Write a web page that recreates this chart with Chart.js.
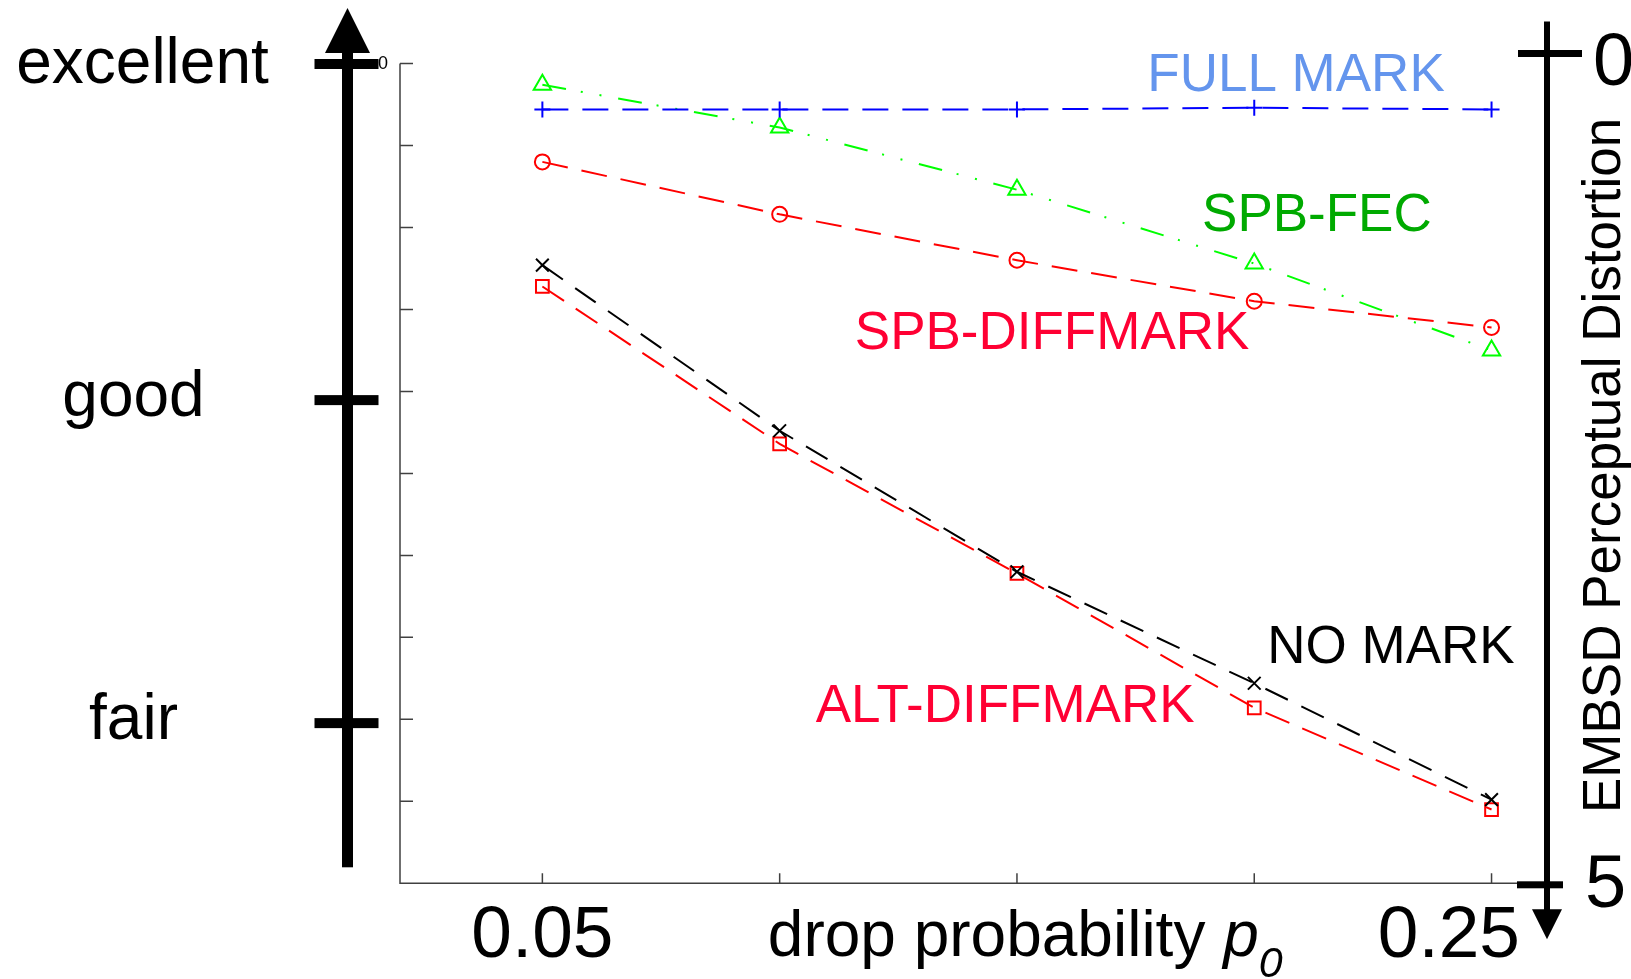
<!DOCTYPE html>
<html>
<head>
  <title>EMBSD perceptual distortion vs drop probability</title>
  <script src="https://cdn.jsdelivr.net/npm/chart.js"></script>
  <style>
    body { margin: 0; background: #fff; }
    canvas { display: block; }
  </style>
</head>
<body>
  <canvas id="chart" width="1631" height="979"></canvas>

  <script>
    // data
    var dropProb = [0.05, 0.10, 0.15, 0.20, 0.25];
    var fullMark = [0.28, 0.28, 0.28, 0.27, 0.28];
    var spbFec = [0.13, 0.39, 0.77, 1.22, 1.75];
    var spbDiffmark = [0.60, 0.92, 1.20, 1.45, 1.61];
    var noMark = [1.23, 2.24, 3.10, 3.78, 4.49];
    var altDiffmark = [1.36, 2.32, 3.11, 3.93, 4.55];

    var yTicks = [0, 0.5, 1, 1.5, 2, 2.5, 3, 3.5, 4, 4.5, 5];
    var xTickLabels = ['0.05', '0.25'];
    var xTickLabelAt = [0.05, 0.241];
    var qualityLabels = ['excellent', 'good', 'fair'];
    var qualityLevels = [0, 2.05, 4.02];

    // series names written inside the plot (anchor in data units)
    var seriesNames = ['FULL MARK', 'SPB-FEC', 'SPB-DIFFMARK', 'NO MARK', 'ALT-DIFFMARK'];
    var nameX = [0.2088, 0.2132, 0.1574, 0.2288, 0.1475];
    var nameY = [0.052, 0.906, 1.625, 3.54, 3.90];
    var nameColors = ['#6495ED', '#00AA00', '#FF0033', '#000000', '#FF0033'];

    var FONT = '"Liberation Sans", Arial, Helvetica, sans-serif';

    function pts(ys) {
      return dropProb.map(function (x, i) { return { x: x, y: ys[i] }; });
    }

    function series(label, ys, color, dash, style, radius) {
      return {
        label: label,
        data: pts(ys),
        borderColor: color,
        borderWidth: 2,
        borderDash: dash,
        fill: false,
        tension: 0,
        pointStyle: style,
        pointRadius: radius,
        pointHoverRadius: radius,
        pointBorderWidth: 2,
        pointBorderColor: color,
        pointBackgroundColor: 'rgba(0,0,0,0)'
      };
    }

    var decorations = {
      id: 'decorations',
      beforeDatasetsDraw: function (chart) {
        var ctx = chart.ctx, a = chart.chartArea;
        var xs = chart.scales.x, ys = chart.scales.y;
        ctx.save();

        // axes with inner ticks
        ctx.strokeStyle = '#404040';
        ctx.lineWidth = 1.5;
        ctx.beginPath();
        ctx.moveTo(a.left, a.top);
        ctx.lineTo(a.left, a.bottom);
        ctx.lineTo(a.right, a.bottom);
        yTicks.forEach(function (v) {
          var y = ys.getPixelForValue(v);
          ctx.moveTo(a.left, y);
          ctx.lineTo(a.left + 13, y);
        });
        dropProb.forEach(function (v) {
          var x = xs.getPixelForValue(v);
          ctx.moveTo(x, a.bottom);
          ctx.lineTo(x, a.bottom - 10);
        });
        ctx.stroke();

        ctx.fillStyle = '#000';
        ctx.font = '18px ' + FONT;
        ctx.textAlign = 'center';
        ctx.textBaseline = 'middle';
        ctx.fillText('0', a.left - 17, ys.getPixelForValue(0) + 1);

        // quality arrow on the left
        var qx = a.left - 52.5;
        var qdx = [7, -2, -2], qdy = [19, 16, 16];
        ctx.fillStyle = '#000';
        ctx.fillRect(qx - 5.5, a.top - 12, 11, a.bottom - a.top - 4);
        ctx.beginPath();
        ctx.moveTo(qx - 22.5, a.top - 10.5);
        ctx.lineTo(qx + 22.5, a.top - 10.5);
        ctx.lineTo(qx, a.top - 55.5);
        ctx.closePath();
        ctx.fill();
        ctx.font = '64px ' + FONT;
        ctx.textAlign = 'center';
        ctx.textBaseline = 'alphabetic';
        qualityLevels.forEach(function (v, i) {
          var y = ys.getPixelForValue(v) + 0.5;
          ctx.fillRect(qx - 33, y - 5, 64, 10);
          ctx.fillText(qualityLabels[i], qx - 212 + qdx[i], y + qdy[i]);
        });

        // distortion arrow on the right
        var rx = a.right + 8;
        ctx.fillRect(rx - 3, a.top - 42, 6, a.bottom - a.top + 70);
        ctx.beginPath();
        ctx.moveTo(rx - 15, a.bottom + 26);
        ctx.lineTo(rx + 15, a.bottom + 26);
        ctx.lineTo(rx, a.bottom + 56);
        ctx.closePath();
        ctx.fill();
        ctx.fillRect(rx - 29, a.top - 13.5, 64, 7);
        ctx.fillRect(rx - 30, a.bottom - 2, 46, 7);
        ctx.font = '74px ' + FONT;
        ctx.textAlign = 'left';
        ctx.fillText('0', rx + 46, a.top + 21);
        ctx.fillText('5', rx + 38, a.bottom + 24);

        ctx.save();
        ctx.translate(rx + 58, (a.top + a.bottom) / 2 - 8);
        ctx.rotate(-Math.PI / 2);
        ctx.font = '53px ' + FONT;
        ctx.textAlign = 'center';
        ctx.textBaseline = 'middle';
        ctx.fillText('EMBSD Perceptual Distortion', 0, 0);
        ctx.restore();

        // x tick labels and title
        ctx.font = '73px ' + FONT;
        ctx.textAlign = 'center';
        ctx.textBaseline = 'alphabetic';
        xTickLabels.forEach(function (t, i) {
          ctx.fillText(t, xs.getPixelForValue(xTickLabelAt[i]), a.bottom + 74);
        });
        var tx = xs.getPixelForValue(0.0975), ty = a.bottom + 73;
        ctx.textAlign = 'left';
        ctx.font = '64px ' + FONT;
        var main = 'drop probability ';
        ctx.fillText(main, tx, ty);
        tx += ctx.measureText(main).width;
        ctx.font = 'italic 64px ' + FONT;
        ctx.fillText('p', tx, ty);
        tx += ctx.measureText('p').width;
        ctx.font = 'italic 43px ' + FONT;
        ctx.fillText('0', tx, ty + 21);

        ctx.restore();
      },
      afterDatasetsDraw: function (chart) {
        var ctx = chart.ctx, xs = chart.scales.x, ys = chart.scales.y;
        ctx.save();
        ctx.font = '53px ' + FONT;
        ctx.textAlign = 'center';
        ctx.textBaseline = 'alphabetic';
        seriesNames.forEach(function (n, i) {
          ctx.fillStyle = nameColors[i];
          ctx.fillText(n, xs.getPixelForValue(nameX[i]), ys.getPixelForValue(nameY[i]) + 19);
        });
        ctx.restore();
      }
    };

    var ctx = document.getElementById('chart').getContext('2d');
    var chart = new Chart(ctx, {
      type: 'line',
      data: {
        datasets: [
          series('FULL MARK', fullMark, '#0000FF', [26, 14], 'cross', 8),
          series('SPB-FEC', spbFec, '#00FF00', [24, 15, 2, 17, 2, 17], 'triangle', 10),
          series('SPB-DIFFMARK', spbDiffmark, '#FF0000', [26, 14], 'circle', 7.5),
          series('NO MARK', noMark, '#000000', [25, 15], 'crossRot', 9),
          series('ALT-DIFFMARK', altDiffmark, '#FF0000', [26, 14], 'rect', 9)
        ]
      },
      options: {
        responsive: false,
        animation: false,
        devicePixelRatio: 1,
        layout: { padding: { left: 400, top: 63.5, right: 92, bottom: 95.7 } },
        plugins: { legend: { display: false }, tooltip: { enabled: false } },
        scales: {
          x: { type: 'linear', min: 0.02, max: 0.26, display: false },
          y: { type: 'linear', min: 0, max: 5, reverse: true, display: false }
        }
      },
      plugins: [decorations]
    });
  </script>
</body>
</html>
